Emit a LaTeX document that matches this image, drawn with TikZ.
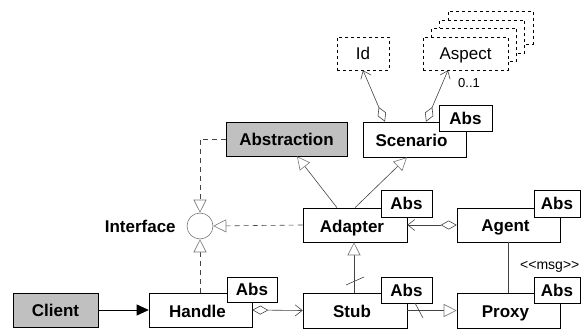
\documentclass[tikz,border=0pt]{standalone}
\usepackage{fontspec}
\setmainfont{Liberation Sans}
\usetikzlibrary{arrows.meta}
\definecolor{boxgray}{HTML}{C0C0C0}
\definecolor{linegray}{HTML}{444444}
\definecolor{tipgray}{HTML}{777777}
\tikzset{
  cls/.style={draw=black, line width=0.6pt, fill=white, inner sep=0pt,
    font=\fontsize{17}{19}\selectfont\bfseries, text depth=0pt},
  absbox/.style={cls, minimum width=#1, minimum height=26pt},
  conn/.style={draw=linegray, line width=0.6pt},
  dconn/.style={conn, dash pattern=on 5pt off 4pt},
  gen/.style={-{Triangle[open, length=13pt, width=13pt, fill=white, color=tipgray]}},
  agg/.style={{Diamond[open, length=16pt, width=9pt, fill=white]}-{Straight Barb[length=7pt, width=11pt]}},
  dir/.style={-{Triangle[length=12pt, width=11pt]}},
  lbl/.style={font=\fontsize{13}{15}\selectfont, inner sep=0pt}
}
\begin{document}
\begin{tikzpicture}[x=1pt,y=-1pt]
\useasboundingbox (0,0) rectangle (582,329);
% Id
\node[cls, dashed, font=\fontsize{17}{19}\selectfont, minimum width=52pt, minimum height=33pt] (Id) at (363,53.5) {Id};
% Aspect stack
\node[cls, dashed, minimum width=85pt, minimum height=33pt] (Asp3) at (490.5,28) {};
\node[cls, dashed, minimum width=85pt, minimum height=33pt] (Asp2) at (482,36.5) {};
\node[cls, dashed, minimum width=85pt, minimum height=33pt] (Asp1) at (474,45) {};
\node[cls, dashed, font=\fontsize{17}{19}\selectfont, minimum width=85pt, minimum height=33pt] (Aspect) at (465.5,53.5) {Aspect};
\node[lbl, anchor=west] (mult) at (458,83) {0..1};
% Scenario
\node[cls, minimum width=103pt, minimum height=35pt] (Scenario) at (414.5,139.5) {\raisebox{-2pt}{Scenario}\hspace*{6pt}};
\node[absbox=53pt] (absScen) at (465.5,118) {Abs};
% Abstraction
\node[cls, fill=boxgray, minimum width=121pt, minimum height=34pt] (Abstraction) at (286.5,139) {Abstraction};
% Interface
\node[circle, draw=tipgray, line width=0.6pt, minimum size=26pt, inner sep=0pt] (Iface) at (200,226) {};
\node[cls, draw=none, fill=none, anchor=east] (IfaceLbl) at (176,226) {Interface};
% Adapter
\node[cls, minimum width=104pt, minimum height=34pt] (Adapter) at (355,225) {\raisebox{-2pt}{Adapter}\hspace*{6pt}};
\node[absbox=51pt, minimum height=27pt] (absAdap) at (406.5,203.5) {Abs};
% Agent
\node[cls, minimum width=103pt, minimum height=34pt] (Agent) at (508.5,225) {\raisebox{-2pt}{Agent}\hspace*{6pt}};
\node[absbox=46pt, minimum height=27pt] (absAgent) at (557,203.5) {Abs};
% Stub
\node[cls, minimum width=104pt, minimum height=35pt] (Stub) at (355,310.5) {\raisebox{-2pt}{Stub}\hspace*{6pt}};
\node[absbox=51pt] (absStub) at (406.5,290) {Abs};
% Proxy
\node[cls, minimum width=103pt, minimum height=35pt] (Proxy) at (508.5,310.5) {\raisebox{-2pt}{Proxy}\hspace*{6pt}};
\node[absbox=46pt] (absProxy) at (557,290) {Abs};
\node[lbl, font=\fontsize{14}{16}\selectfont, anchor=west] (msg) at (520,267) {\textless\kern0pt\textless\kern0pt msg\textgreater\kern0pt\textgreater};
% Handle
\node[cls, minimum width=103pt, minimum height=34pt] (Handle) at (200.5,310) {\raisebox{-2pt}{Handle}\hspace*{6pt}};
\node[absbox=50pt, minimum height=25pt] (absHandle) at (252,289.5) {Abs};
% Client
\node[cls, fill=boxgray, minimum width=85pt, minimum height=34pt] (Client) at (55.5,310) {Client};

% connectors
\draw[conn, agg] ([xshift=-29.5pt]Scenario.north) -- (Id.south);
\draw[conn, agg] ([xshift=11.5pt]Scenario.north) -- ([xshift=-17.5pt]Aspect.south);
\draw[conn, gen] ([xshift=-18pt]Adapter.north) -- ([xshift=10.5pt]Abstraction.south);
\draw[conn, gen] (Adapter.north) -- ([xshift=-7.5pt]Scenario.south);
\draw[dconn, gen] (Abstraction.west) -| (Iface.north);
\draw[dconn, gen] (Adapter.west) -- (Iface.east);
\draw[dconn, gen] (Handle.north -| Iface.south) -- (Iface.south);
\draw[conn, agg] (Agent.west) -- (Adapter.east);
\draw[conn] (Agent.south) -- (Proxy.north);
\draw[conn, gen] ([xshift=-1pt]Stub.north) coordinate (stubTop) -- (stubTop |- Adapter.south);
\draw[conn] (346,285) -- (364,277);
\draw[conn, gen] (Stub.east) -- (Proxy.west);
\draw[conn] (415,303) -- (423,318);
\draw[conn, agg] (Handle.east) -- (Stub.west);
\draw[conn, draw=black, dir] (Client.east) -- (Handle.west);
\end{tikzpicture}
\end{document}
